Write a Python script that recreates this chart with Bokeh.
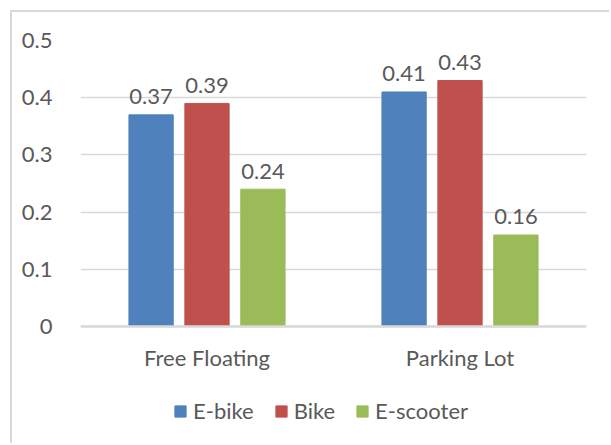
from bokeh.plotting import figure
from bokeh.models import (ColumnDataSource, Range1d, FactorRange, FixedTicker,
                          NumeralTickFormatter, Legend, LegendItem, Span)
from bokeh.transform import dodge
from bokeh.core.properties import value
from bokeh.embed import file_html
from bokeh.resources import INLINE

categories = ["Free Floating", "Parking Lot"]
series_names = ["E-bike", "Bike", "E-scooter"]
ebike = [0.37, 0.41]
bike = [0.39, 0.43]
escooter = [0.24, 0.16]
y_ticks = [0, 0.1, 0.2, 0.3, 0.4, 0.5]

colors = ["#4F81BD", "#C0504D", "#9BBB59"]
TEXT = "#595959"
GRID = "#D9D9D9"
FONT = "Lato"
FS = "22px"

src = ColumnDataSource(dict(
    cat=categories,
    base=[0] * len(categories),
    ebike=ebike, bike=bike, escooter=escooter,
    ebike_lbl=[f"{v:.2f}" for v in ebike],
    bike_lbl=[f"{v:.2f}" for v in bike],
    escooter_lbl=[f"{v:.2f}" for v in escooter],
))

OFF = 12  # canvas offset caused by margin (border drawn in that margin)
# the frame extends below the value axis so that the legend can sit inside it
p = figure(width=611 - OFF, height=445 - OFF,
           x_range=FactorRange(*categories, range_padding=0),
           y_range=Range1d(-0.208, 0.5), output_backend="svg", toolbar_location=None,
           min_border_left=80 - OFF, min_border_right=25, min_border_top=40 - OFF,
           min_border_bottom=0)
p.margin = (OFF, 0, 0, OFF)
p.styles = {"box-shadow": "-2px -2px 0 0 #D9D9D9"}
p.outline_line_color = None
p.background_fill_color = "white"
p.border_fill_color = "white"

step = 0.221
bw = 0.175
keys = ["ebike", "bike", "escooter"]
renderers = []
for i, (k, c) in enumerate(zip(keys, colors)):
    off = (i - 1) * step
    r = p.vbar(x=dodge("cat", off, range=p.x_range), top=k, bottom="base", width=bw,
               source=src, fill_color=c, line_color=c, line_width=1)
    renderers.append(r)
    p.text(x=dodge("cat", off, range=p.x_range), y=k, text=k + "_lbl", source=src,
           text_align="center", text_baseline="alphabetic", y_offset=-18,
           text_font=value(FONT), text_font_size=FS, text_color=TEXT)

# category labels under the zero line
p.text(x="cat", y="base", text="cat", source=src, text_align="center",
       text_baseline="middle", y_offset=31, text_font=value(FONT),
       text_font_size=FS, text_color=TEXT)

# axes
p.yaxis.ticker = FixedTicker(ticks=y_ticks)
p.yaxis.formatter = NumeralTickFormatter(format="0.[0]")
p.yaxis.axis_line_color = None
p.yaxis.major_tick_line_color = None
p.yaxis.minor_tick_line_color = None
p.yaxis.major_label_text_font = FONT
p.yaxis.major_label_text_font_size = FS
p.yaxis.major_label_text_color = TEXT
p.yaxis.major_label_standoff = 22

p.xaxis.visible = False

p.xgrid.grid_line_color = None
p.ygrid.grid_line_color = GRID
p.ygrid.grid_line_width = 1.5

p.add_layout(Span(location=0, dimension="width", line_color=GRID, line_width=2.5))

legend = Legend(items=[LegendItem(label=n, renderers=[r]) for n, r in zip(series_names, renderers)],
                orientation="horizontal", location=(93, 21),
                label_text_font=FONT, label_text_font_size=FS, label_text_color=TEXT,
                glyph_width=14, glyph_height=14, label_standoff=6, spacing=20,
                padding=0, margin=0, border_line_color=None,
                background_fill_alpha=0)
p.add_layout(legend, "center")

open("out.html", "w").write(file_html(p, INLINE))
